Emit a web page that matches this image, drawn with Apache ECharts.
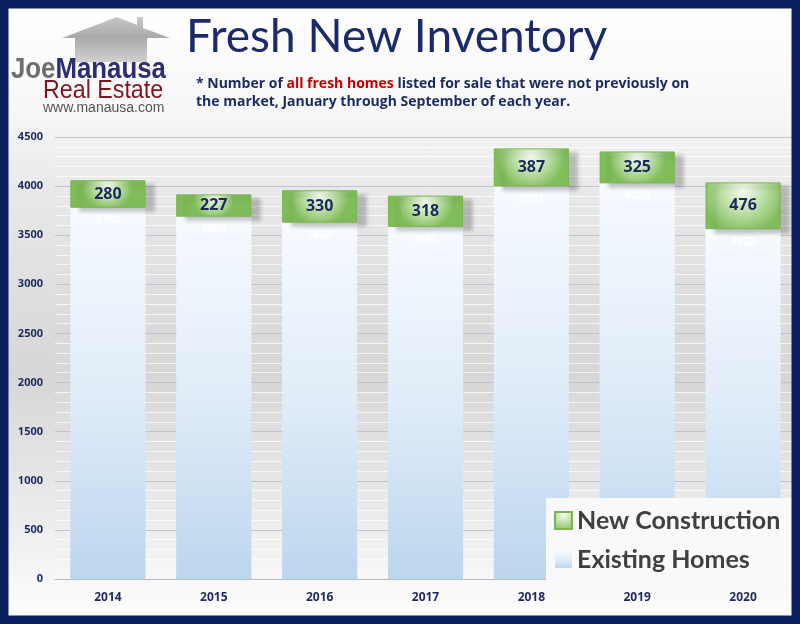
<!DOCTYPE html>
<html><head><meta charset="utf-8">
<script src="https://cdn.jsdelivr.net/npm/echarts@6/dist/echarts.min.js"></script>
<style>html,body{margin:0;padding:0;background:#fff}#c{width:800px;height:624px}</style>
</head><body><div id="c"></div>
<script>
var years = ['2014','2015','2016','2017','2018','2019','2020'];
var existingHomes = [3780, 3689, 3628, 3585, 3997, 4028, 3562];
var newConstruction = [280, 227, 330, 318, 387, 325, 476];
var yTicks = {min: 0, max: 4500, interval: 500};

var navy = '#1b2a5e';
var chart = echarts.init(document.getElementById('c'));
var G = echarts.graphic;
chart.setOption({
  animation: false,
  backgroundColor: new G.LinearGradient(0,0,0,1,[
    {offset:0,color:'#ffffff'},{offset:0.18,color:'#f7f7f7'},{offset:0.3,color:'#e9e9e9'},
    {offset:0.6,color:'#d6d6d6'},{offset:0.85,color:'#eeeeee'},{offset:1,color:'#ffffff'}]),
  grid: {left: 55, right: 4, top: 137, bottom: 45},
  xAxis: {
    type: 'category', data: years,
    axisLine: {lineStyle: {color: '#b8bcc8', width: 1}},
    axisTick: {show: false},
    axisLabel: {color: navy, fontWeight: 'bold', fontSize: 12, fontFamily: 'Open Sans', margin: 13}
  },
  yAxis: {
    type: 'value', min: yTicks.min, max: yTicks.max, interval: yTicks.interval,
    axisLine: {show: false},
    axisTick: {show: false},
    axisLabel: {color: navy, fontWeight: 'bold', fontSize: 11, fontFamily: 'Open Sans', margin: 12,
      formatter: function (v) { return String(v); }},
    splitLine: {lineStyle: {color: '#c0c3ce', width: 1}},
    minorTick: {show: false, splitNumber: 5},
    minorSplitLine: {show: true, lineStyle: {color: 'rgba(255,255,255,0.7)', width: 1}}
  },
  legend: {
    orient: 'vertical', left: 546, top: 498, itemGap: 14,
    data: ['New Construction', 'Existing Homes'],
    icon: 'rect', itemWidth: 17, itemHeight: 17,
    backgroundColor: 'rgba(250,250,250,0.97)', padding: [10, 20, 12, 8],
    textStyle: {fontSize: 25, fontWeight: 'bold', color: '#404040', fontFamily: 'Lato'}
  },
  series: [
    {
      name: 'Existing Homes', type: 'bar', stack: 's', data: existingHomes,
      barCategoryGap: '29%',
      itemStyle: {
        color: new G.LinearGradient(0,0,0,1,[{offset:0,color:'#f7faff'},{offset:0.5,color:'#e0ecf8'},{offset:1,color:'#bcd6ee'}])
      },
      label: {show: true, position: 'insideTop', distance: 7, color: '#ffffff', fontWeight: 'bold', fontSize: 11, fontFamily: 'Open Sans'}
    },
    {
      name: 'New Construction', type: 'bar', stack: 's', data: newConstruction,
      itemStyle: {
        color: new G.RadialGradient(0.5,0.2,0.9,[{offset:0,color:'#f6fbf2'},{offset:0.45,color:'#c3e2ae'},{offset:1,color:'#80bc5a'}]),
        borderColor: '#7ab552', borderWidth: 1,
        shadowColor: 'rgba(0,0,0,0.22)', shadowOffsetX: 9, shadowOffsetY: 4, shadowBlur: 4
      },
      label: {show: true, position: 'inside', color: navy, fontWeight: 'bold', fontSize: 16, fontFamily: 'Open Sans'}
    }
  ],
  graphic: [
    {type:'rect', silent:true, z:100, shape:{x:4,y:4,width:792,height:616}, style:{fill:'none', stroke:'#0b1f5e', lineWidth:9}},
    // logo house
    {type:'polygon', z:10, shape:{points:[[62,38],[117,17],[137,25],[137,17],[143,17],[143,28],[170,38],[147,38],[147,62],[75,62],[75,38]]},
      style:{fill: new G.LinearGradient(0,0,0,1,[{offset:0,color:'#c8c8c8'},{offset:0.45,color:'#a9a9a9'},{offset:1,color:'#d0d0d0'}])}},
    {type:'text', z:11, x: 11, y: 55, scaleX: 0.86, style:{
      text:'{g|Joe}{n|Manausa}',
      rich:{g:{font:'bold 30px "Liberation Sans"', fill:'#6e6e6e'}, n:{font:'bold 30px "Liberation Sans"', fill:'#2b2f6e'}},
      font:'bold 30px "Liberation Sans"'}},
    {type:'text', z:11, x: 43, y: 79, scaleX: 0.93, style:{text:'Real Estate', font:'25px "Liberation Sans"', fill:'#7e1620'}},
    {type:'text', z:11, x: 43, y: 101, style:{text:'www.manausa.com', font:'14px "Liberation Sans"', fill:'#555555'}},
    // title
    {type:'text', z:11, x: 186, y: 14, style:{text:'Fresh New Inventory', font:'46px Lato', fill:'#1b2a6b'}},
    {type:'text', z:11, x: 196, y: 77, style:{
      rich:{a:{font:'bold 14px "Open Sans"', fill:navy}, r:{font:'bold 14px "Open Sans"', fill:'#c00000'}},
      text:'{a|* Number of }{r|all fresh homes}{a| listed for sale that were not previously on}', font:'bold 14px "Open Sans"'}},
    {type:'text', z:11, x: 196, y: 95, style:{text:'the market, January through September of each year.', font:'bold 14px "Open Sans"', fill:navy}}
  ]
});
</script></body></html>
